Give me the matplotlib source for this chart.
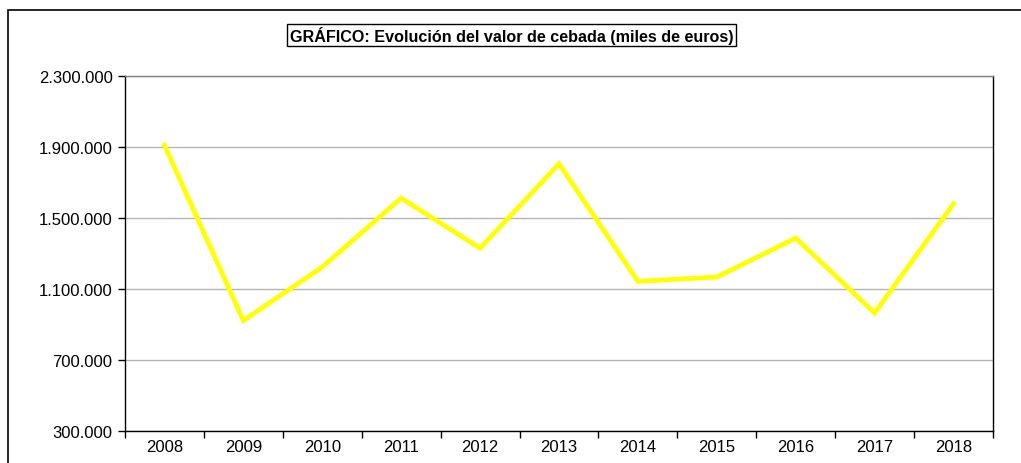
import matplotlib.pyplot as plt
import matplotlib.patches as patches
from matplotlib.ticker import FuncFormatter, FixedLocator

# Valor de la cebada (miles de euros)
years = ["2008", "2009", "2010", "2011", "2012", "2013",
         "2014", "2015", "2016", "2017", "2018"]
values = [1910000, 922000, 1224000, 1612000, 1330000, 1805000,
          1143000, 1167000, 1387000, 965000, 1580000]
y_ticks = [300000, 700000, 1100000, 1500000, 1900000, 2300000]

plt.rcParams['font.family'] = ['Liberation Sans', 'DejaVu Sans']

fig = plt.figure(figsize=(10.21, 4.64), dpi=100)
ax = fig.add_axes([125 / 1021, 1 - 432 / 464, 868 / 1021, 355 / 464])

x = list(range(len(years)))
ax.plot(x, values, color='#FFFF00', linewidth=3.4, solid_joinstyle='miter', zorder=3)

ax.set_xlim(-0.5, len(years) - 0.5)
ax.set_ylim(y_ticks[0], y_ticks[-1])
ax.set_yticks(y_ticks)
ax.yaxis.set_major_formatter(FuncFormatter(lambda v, p: f"{int(v):,}".replace(",", ".")))
ax.grid(axis='y', color='#b4b4b4', linewidth=1)
ax.set_axisbelow(True)

# category labels at centres, tick marks between categories
ax.set_xticks(x)
ax.set_xticklabels(years)
ax.tick_params(axis='x', which='major', length=0, pad=6, labelsize=12)
ax.xaxis.set_minor_locator(FixedLocator([i - 0.5 for i in range(len(years) + 1)]))
ax.tick_params(axis='x', which='minor', length=5, width=1, direction='out')
ax.tick_params(axis='y', length=5, width=1, direction='out', labelsize=12, pad=4)

for s in ['left', 'bottom', 'right']:
    ax.spines[s].set_color('black')
    ax.spines[s].set_linewidth(1)
ax.spines['top'].set_color('#808080')
ax.spines['top'].set_linewidth(1)

fig.text(0.501, 1 - 36 / 464, "GRÁFICO: Evolución del valor de cebada (miles de euros)",
         ha='center', va='center', fontsize=11.6, fontweight='bold',
         bbox=dict(boxstyle='square,pad=0.15', facecolor='white', edgecolor='black', linewidth=1))

# outer chart border (cut off at right and bottom)
fig.patches.append(patches.Rectangle((8 / 1021, -0.1), 1.2, 1.1 - 11 / 464,
                                     transform=fig.transFigure, fill=False,
                                     edgecolor='black', linewidth=1.2))

fig.savefig("out.png", dpi=100)
